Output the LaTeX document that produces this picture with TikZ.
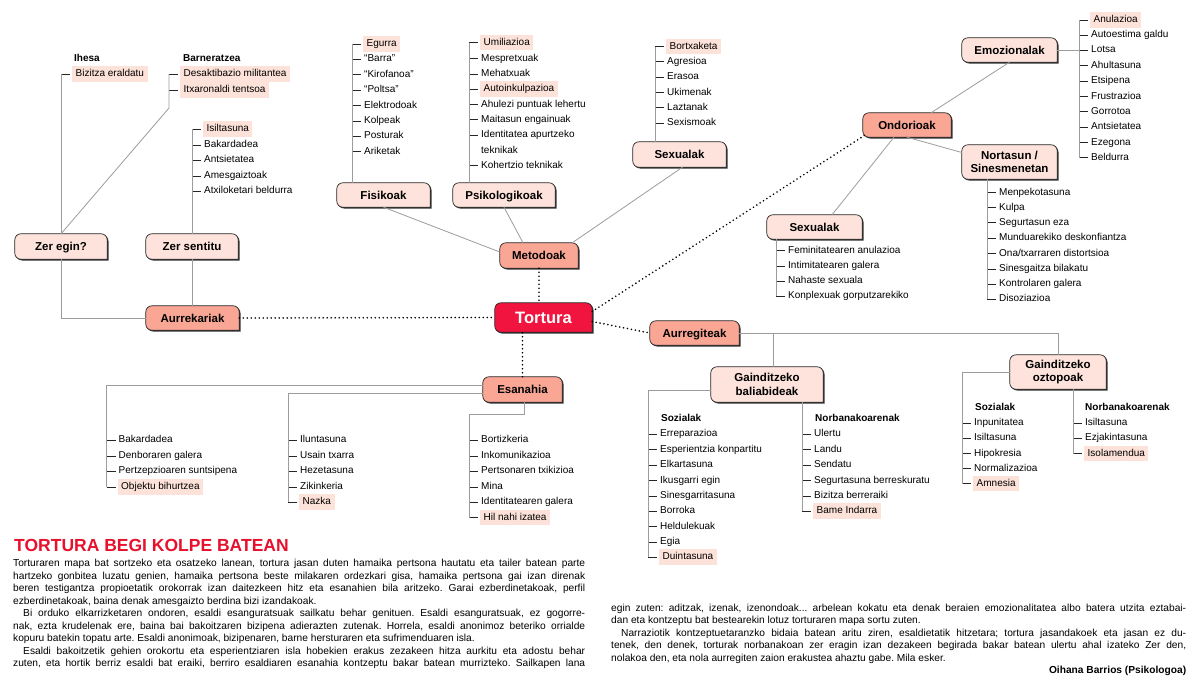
\documentclass[tikz,border=0pt]{standalone}
\usepackage{fontspec}
\setmainfont{Liberation Sans}
\usetikzlibrary{backgrounds}
\frenchspacing
\definecolor{torred}{HTML}{F0143E}
\definecolor{lvlone}{HTML}{F9A695}
\definecolor{lvltwo}{HTML}{FDE3DB}
\definecolor{hlpink}{HTML}{FCE2D9}
\definecolor{lngray}{HTML}{9C9C9C}
\definecolor{titlered}{HTML}{E8112D}

\newcommand\tabpath[2]{([shift={#2}]#1.south east) -- ([shift={#2},xshift=6pt]#1.south west) arc[start angle=270,end angle=180,radius=6pt] -- ([shift={#2},yshift=-6pt]#1.north west) arc[start angle=180,end angle=90,radius=6pt] -- ([shift={#2},xshift=-6pt]#1.north east) arc[start angle=90,end angle=0,radius=6pt] -- cycle}

\newcommand\mklist[3]{%
  \coordinate (#1x) at (#2,0);
  \foreach \yy/\ss/\tx [count=\ii] in {#3} {
    \node[item,\ss,anchor=west] (#1\ii) at (#2+11,\yy) {\tx};
    \draw[tick] (#1x |- #1\ii) -- ([xshift=-2pt]#1\ii.west);
  }%
}
\newcommand\JL[1]{\hbox to \hsize{#1}}
\newcommand\LL[1]{\hbox{#1}}

\begin{document}
\begin{tikzpicture}[x=1pt,y=-1pt,
  bx/.style={inner sep=0pt, font=\bfseries\fontsize{11.5}{13.5}\selectfont, align=center},
  oneline/.style={text height=8.2pt, text depth=0pt},
  item/.style={inner xsep=1pt, inner ysep=3pt, font=\fontsize{10}{12}\selectfont, text height=7.3pt, text depth=2.2pt},
  nrm/.style={},
  hil/.style={fill=hlpink, inner xsep=3.5pt},
  head/.style={inner sep=0pt, anchor=west, font=\bfseries\fontsize{10}{12}\selectfont, text height=7.3pt, text depth=2.2pt},
  gline/.style={draw=lngray, line width=0.8pt},
  tick/.style={draw=black!85, line width=0.8pt},
  dotl/.style={draw=black, line width=1.8pt, dash pattern=on 0pt off 4pt, line cap=round},
]
\useasboundingbox (0,0) rectangle (1200,683);
\begin{scope}[on background layer]
  \fill[white] (0,0) rectangle (1200,683);
\end{scope}

% ---------- main boxes ----------
\node[bx,oneline,minimum width=97pt,minimum height=29pt,text=white,font=\bfseries\fontsize{16.5}{18}\selectfont,text height=11.8pt] (tor) at (543.5,317.5) {Tortura};
\node[bx,oneline,minimum width=78pt,minimum height=25pt] (met) at (539,255.5) {Metodoak};
\node[bx,oneline,minimum width=93pt,minimum height=24pt] (aur) at (192.5,318) {Aurrekariak};
\node[bx,oneline,minimum width=79pt,minimum height=25pt] (esa) at (522.5,389.5) {Esanahia};
\node[bx,oneline,minimum width=89pt,minimum height=24pt] (aug) at (694.5,333) {Aurregiteak};
\node[bx,oneline,minimum width=88pt,minimum height=24pt] (ond) at (907,125) {Ondorioak};

\node[bx,oneline,minimum width=92pt,minimum height=25pt] (zeg) at (61,246.5) {Zer egin?};
\node[bx,oneline,minimum width=92pt,minimum height=25pt] (zs) at (192,246.5) {Zer sentitu};
\node[bx,oneline,minimum width=93pt,minimum height=24pt] (fis) at (383.5,195) {Fisikoak};
\node[bx,oneline,minimum width=102pt,minimum height=24pt] (psi) at (504,195) {Psikologikoak};
\node[bx,oneline,minimum width=93pt,minimum height=25pt] (sx1) at (679.5,154.5) {Sexualak};
\node[bx,oneline,minimum width=95pt,minimum height=24pt] (emo) at (1009.5,50) {Emozionalak};
\node[bx,minimum width=95pt,minimum height=34pt] (nor) at (1009.5,162) {Nortasun /\\Sinesmenetan};
\node[bx,oneline,minimum width=95pt,minimum height=24pt] (sx2) at (814.5,227) {Sexualak};
\node[bx,minimum width=112pt,minimum height=35pt] (bal) at (767,384.5) {Gainditzeko\\baliabideak};
\node[bx,minimum width=96pt,minimum height=34pt] (ozt) at (1058,372) {Gainditzeko\\oztopoak};

\begin{scope}[on background layer, x=1pt, y=1pt]
\foreach \n/\c in {tor/torred, met/lvlone, aur/lvlone, esa/lvlone, aug/lvlone, ond/lvlone, zeg/lvltwo, zs/lvltwo, fis/lvltwo, psi/lvltwo, sx1/lvltwo, emo/lvltwo, nor/lvltwo, sx2/lvltwo, bal/lvltwo, ozt/lvltwo}{
  \fill[black!80] \tabpath{\n}{(1.3pt,-1.3pt)};
  \draw[fill=\c, draw=black!85, line width=0.7pt] \tabpath{\n}{(0pt,0pt)};
}
\end{scope}

% ---------- headings ----------
\node[head] (ihe) at (74,59) {Ihesa};
\node[head] (bar) at (183,59) {Barneratzea};
\node[head] (bsh) at (661,419) {Sozialak};
\node[head] (bnh) at (815,419) {Norbanakoarenak};
\node[head] (osh) at (975,408) {Sozialak};
\node[head] (onh) at (1085,408) {Norbanakoarenak};

% ---------- lists ----------
\mklist{ze}{61}{74/hil/Bizitza eraldatu}
\mklist{ba}{169}{74/hil/Desaktibazio militantea, 90/hil/Itxaronaldi tentsoa}
\mklist{zt}{192}{129/hil/Isiltasuna, 145/nrm/Bakardadea, 160/nrm/Antsietatea, 176/nrm/Amesgaiztoak, 191/nrm/Atxiloketari beldurra}
\mklist{fi}{352}{44/hil/Egurra, 59/nrm/“Barra”, 74.5/nrm/“Kirofanoa”, 90/nrm/“Poltsa”, 105.5/nrm/Elektrodoak, 121/nrm/Kolpeak, 136/nrm/Posturak, 151.5/nrm/Ariketak}
\mklist{pa}{469}{42.5/hil/Umiliazioa, 58.5/nrm/Mespretxuak, 74/nrm/Mehatxuak, 89/hil/Autoinkulpazioa, 104.5/nrm/Ahulezi puntuak lehertu, 119.5/nrm/Maitasun engainuak, 135/nrm/Identitatea apurtzeko}
\node[item,anchor=west] (pat) at (480,150.5) {teknikak};
\mklist{pb}{469}{165.5/nrm/Kohertzio teknikak}
\mklist{sa}{655}{46.5/hil/Bortxaketa, 61.5/nrm/Agresioa, 77/nrm/Erasoa, 92.5/nrm/Ukimenak, 107.5/nrm/Laztanak, 123/nrm/Sexismoak}
\mklist{em}{1079}{20/hil/Anulazioa, 35/nrm/Autoestima galdu, 50/nrm/Lotsa, 65.5/nrm/Ahultasuna, 81/nrm/Etsipena, 96.5/nrm/Frustrazioa, 111.5/nrm/Gorrotoa, 127/nrm/Antsietatea, 142.5/nrm/Ezegona, 157.5/nrm/Beldurra}
\mklist{no}{987}{192.5/nrm/Menpekotasuna, 207.5/nrm/Kulpa, 222.5/nrm/Segurtasun eza, 238/nrm/Munduarekiko deskonfiantza, 253.5/nrm/{Ona/txarraren distortsioa}, 269/nrm/Sinesgaitza bilakatu, 284/nrm/Kontrolaren galera, 299/nrm/Disoziazioa}
\mklist{sb}{776}{250.5/nrm/Feminitatearen anulazioa, 266/nrm/Intimitatearen galera, 281/nrm/Nahaste sexuala, 296/nrm/Konplexuak gorputzarekiko}
\mklist{ea}{106.5}{440/nrm/Bakardadea, 456/nrm/Denboraren galera, 471/nrm/Pertzepzioaren suntsipena, 487/hil/Objektu bihurtzea}
\mklist{eb}{288}{440/nrm/Iluntasuna, 456/nrm/Usain txarra, 471/nrm/Hezetasuna, 487/nrm/Zikinkeria, 502/hil/Nazka}
\mklist{ec}{469}{440/nrm/Bortizkeria, 456/nrm/Inkomunikazioa, 471/nrm/Pertsonaren txikizioa, 487/nrm/Mina, 502/nrm/Identitatearen galera, 517.5/hil/Hil nahi izatea}
\mklist{bs}{648}{434/nrm/Erreparazioa, 449.5/nrm/Esperientzia konpartitu, 465/nrm/Elkartasuna, 480.5/nrm/Ikusgarri egin, 496/nrm/Sinesgarritasuna, 511/nrm/Borroka, 526.5/nrm/Heldulekuak, 542/nrm/Egia, 557/hil/Duintasuna}
\mklist{bn}{802}{434/nrm/Ulertu, 449.5/nrm/Landu, 465/nrm/Sendatu, 480.5/nrm/Segurtasuna berreskuratu, 496/nrm/Bizitza berreraiki, 511/hil/Bame Indarra}
\mklist{os}{962}{423/nrm/Inpunitatea, 438/nrm/Isiltasuna, 453.5/nrm/Hipokresia, 468.5/nrm/Normalizazioa, 483.5/hil/Amnesia}
\mklist{on}{1073}{423/nrm/Isiltasuna, 438/nrm/Ezjakintasuna, 453.5/hil/Isolamendua}

% ---------- grey connectors ----------
\draw[gline] (zex |- ze1) -- (zeg.north);
\draw[gline] (bax |- ba1) -- ++(0,34) -- (zeg.north);
\draw[gline] (ztx |- zt1) -- (ztx |- zs.north);
\draw[gline] (zeg.south) |- (aur.west);
\draw[gline] (zs.south) -- (zs.south |- aur.north);
\draw[gline] (fix |- fi1) -- (fix |- fis.north);
\draw[gline] (pax |- pa1) -- (pax |- psi.north);
\draw[gline] (sax |- sa1) -- (sax |- sx1.north);
\draw[gline] (fis.south) -- ([yshift=3.5pt]met.west);
\draw[gline] (psi.south) -- ([xshift=-16pt]met.north);
\draw[gline] ([xshift=3pt]sx1.south) -- ([xshift=-6pt]met.north east);
\draw[gline] ([xshift=24pt]ond.north) -- (emo.south);
\draw[gline] (ond.south) -- ([yshift=9.5pt]nor.west);
\draw[gline] ([xshift=-13pt]ond.south) -- ([xshift=17.5pt]sx2.north);
\draw[gline] (emo.east) -- (emx |- emo.east);
\draw[gline] (emx |- em1) -- (emx |- em10);
\draw[gline] (nox |- nor.south) -- (nox |- no8);
\draw[gline] (sbx |- sx2.south) -- (sbx |- sb4);
\draw[gline] ([yshift=4.5pt]esa.west) -| (eax |- ea4);
\draw[gline] ([yshift=-3.5pt]esa.west) -| (ebx |- eb5);
\draw[gline] ([xshift=2pt]esa.south) -- ++(0,12) -| (ecx |- ec6);
\draw[gline] (aug.east) -| (ozt.north);
\draw[gline] ([xshift=6pt]bal.north) -- ([xshift=6pt]bal.north |- aug.east);
\draw[gline] ([yshift=-5.5pt]bal.west) -| (bsx |- bs9);
\draw[gline] (bnx |- bal.south) -- (bnx |- bn6);
\draw[gline] (ozt.west) -| (osx |- os5);
\draw[gline] (onx |- ozt.south) -- (onx |- on3);

% ---------- dotted connectors ----------
\draw[dotl] (aur.east) -- (tor.west);
\draw[dotl] (met.south) -- (met.south |- tor.north);
\draw[dotl] (esa.north) -- (esa.north |- tor.south);
\draw[dotl] ([yshift=6pt]tor.east) -- ([xshift=2pt,yshift=2pt]ond.south west);
\draw[dotl] ([yshift=-4pt]tor.east) -- (aug.west);

% ---------- text ----------
\node[anchor=base west, inner sep=0pt, text=titlered, font=\bfseries\fontsize{17.5}{20}\selectfont] (title) at (14,551.5) {TORTURA BEGI KOLPE BATEAN};

\node[anchor=base west, inner sep=0pt, font=\fontsize{10.2}{12.5}\selectfont] (txtl) at (13,566.5) {\vtop{\hsize=572pt\baselineskip=12.5pt
\JL{Torturaren mapa bat sortzeko eta osatzeko lanean, tortura jasan duten hamaika pertsona hautatu eta tailer batean parte}
\JL{hartzeko gonbitea luzatu genien, hamaika pertsona beste milakaren ordezkari gisa, hamaika pertsona gai izan direnak}
\JL{beren testigantza propioetatik orokorrak izan daitezkeen hitz eta esanahien bila aritzeko. Garai ezberdinetakoak, perfil}
\LL{ezberdinetakoak, baina denak amesgaizto berdina bizi izandakoak.}
\JL{\kern10pt Bi orduko elkarrizketaren ondoren, esaldi esanguratsuak sailkatu behar genituen. Esaldi esanguratsuak, ez gogorre-}
\JL{nak, ezta krudelenak ere, baina bai bakoitzaren bizipena adierazten zutenak. Horrela, esaldi anonimoz beteriko orrialde}
\LL{kopuru batekin topatu arte. Esaldi anonimoak, bizipenaren, barne hersturaren eta sufrimenduaren isla.}
\JL{\kern10pt Esaldi bakoitzetik gehien orokortu eta esperientziaren isla hobekien erakus zezakeen hitza aurkitu eta adostu behar}
\JL{zuten, eta hortik berriz esaldi bat eraiki, berriro esaldiaren esanahia kontzeptu bakar batean murrizteko. Sailkapen lana}}};

\node[anchor=base west, inner sep=0pt, font=\fontsize{10.2}{12.5}\selectfont] (txtr) at (611,611) {\vtop{\hsize=575pt\baselineskip=12.5pt
\JL{egin zuten: aditzak, izenak, izenondoak... arbelean kokatu eta denak beraien emozionalitatea albo batera utzita eztabai-}
\LL{dan eta kontzeptu bat bestearekin lotuz torturaren mapa sortu zuten.}
\JL{\kern10pt Narraziotik kontzeptuetaranzko bidaia batean aritu ziren, esaldietatik hitzetara; tortura jasandakoek eta jasan ez du-}
\JL{tenek, den denek, torturak norbanakoan zer eragin izan dezakeen begirada bakar batean ulertu ahal izateko Zer den,}
\LL{nolakoa den, eta nola aurregiten zaion erakustea ahaztu gabe. Mila esker.}
\JL{\hfil\bfseries Oihana Barrios (Psikologoa)}}};
\end{tikzpicture}
\end{document}
